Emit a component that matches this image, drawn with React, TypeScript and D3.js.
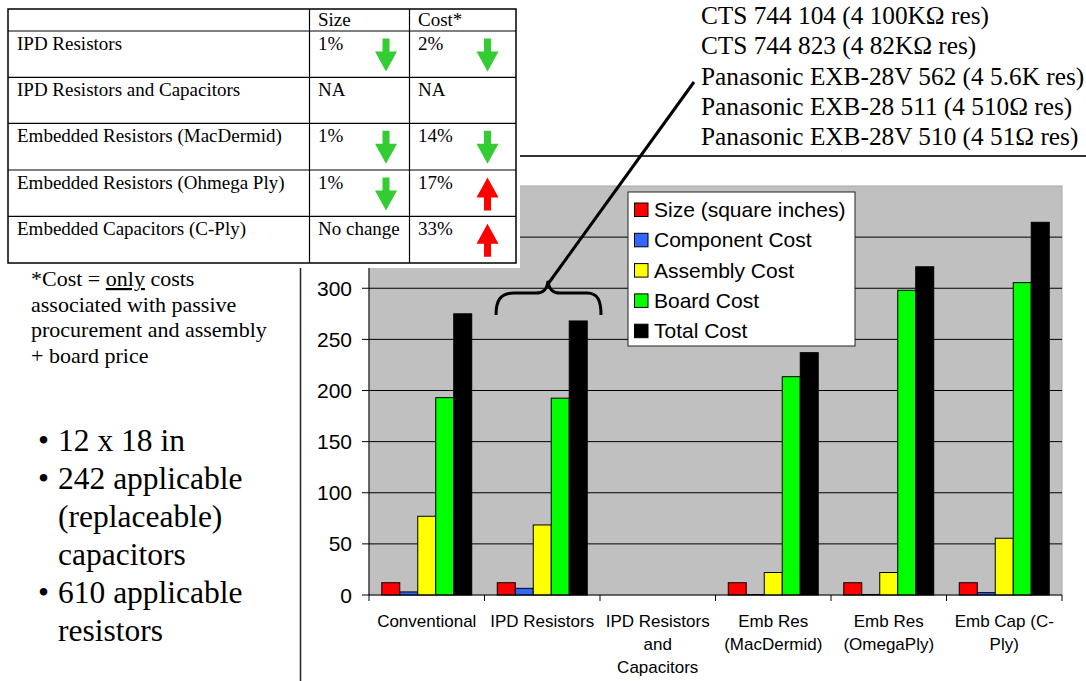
import React from "react";
import * as d3 from "d3";

// ---------- data ----------
const categories = [
  "Conventional",
  "IPD Resistors",
  "IPD Resistors and Capacitors",
  "Emb Res (MacDermid)",
  "Emb Res (OmegaPly)",
  "Emb Cap (C-Ply)",
];
const categoryLabelLines = [
  ["Conventional"],
  ["IPD Resistors"],
  ["IPD Resistors", "and", "Capacitors"],
  ["Emb Res", "(MacDermid)"],
  ["Emb Res", "(OmegaPly)"],
  ["Emb Cap (C-", "Ply)"],
];
const seriesNames = [
  "Size (square inches)",
  "Component Cost",
  "Assembly Cost",
  "Board Cost",
  "Total Cost",
];
const seriesColors = ["#FF0000", "#3366FF", "#FFFF00", "#00FF00", "#000000"];
const sizeValues = [12, 12, null, 12, 12, 12];
const componentValues = [3, 6.5, null, 0.5, 0.5, 2.3];
const assemblyValues = [77, 68.5, null, 22, 22, 55.5];
const boardValues = [193, 192.5, null, 213.5, 298, 305.5];
const totalValues = [275, 268, null, 237, 321, 364.5];
const yTicks = [0, 50, 100, 150, 200, 250, 300, 350, 400];
const yTickLabelsShown = [0, 50, 100, 150, 200, 250, 300];

const tableRows = [
  "IPD Resistors",
  "IPD Resistors and Capacitors",
  "Embedded Resistors (MacDermid)",
  "Embedded Resistors (Ohmega Ply)",
  "Embedded Capacitors (C-Ply)",
];
const sizeChange = ["1%", "NA", "1%", "1%", "No change"];
const costChange = ["2%", "NA", "14%", "17%", "33%"];
const sizeDir = ["down", null, "down", "down", null];
const costDir = ["down", null, "down", "up", "up"];

const partLines = [
  "CTS 744 104 (4 100KΩ res)",
  "CTS 744 823 (4 82KΩ res)",
  "Panasonic EXB-28V 562 (4 5.6K res)",
  "Panasonic EXB-28 511 (4 510Ω res)",
  "Panasonic EXB-28V 510 (4 51Ω res)",
];
const noteLines = ["associated with passive", "procurement and assembly", "+ board price"];
const bullets = [
  ["12 x 18 in"],
  ["242 applicable", "(replaceable)", "capacitors"],
  ["610 applicable", "resistors"],
];

const allSeries = [sizeValues, componentValues, assemblyValues, boardValues, totalValues];

const SANS = "'Liberation Sans', Arial, sans-serif";
const SERIF = "'Liberation Serif', 'Times New Roman', serif";

function Arrow({ cx, top, dir }: { cx: number; top: number; dir: string }) {
  const h = 33, hw = 11, sw = 3.5, headH = 20;
  let pts: number[][];
  if (dir === "down") {
    pts = [
      [cx - sw, top], [cx + sw, top], [cx + sw, top + h - headH], [cx + hw, top + h - headH],
      [cx, top + h], [cx - hw, top + h - headH], [cx - sw, top + h - headH],
    ];
  } else {
    pts = [
      [cx, top], [cx + hw, top + headH], [cx + sw, top + headH], [cx + sw, top + h],
      [cx - sw, top + h], [cx - sw, top + headH], [cx - hw, top + headH],
    ];
  }
  return (
    <polygon
      points={pts.map((p) => p.join(",")).join(" ")}
      fill={dir === "down" ? "#33CC33" : "#FF0000"}
    />
  );
}

export default function App() {
  const W = 1086, H = 681;
  const plot = { left: 369, right: 1062, top: 186, bottom: 595 };
  const y = d3.scaleLinear().domain([0, 400]).range([plot.bottom, plot.top]);
  const x0 = d3.scaleBand<string>().domain(categories).range([plot.left, plot.right]).padding(0);
  const x1 = d3
    .scaleBand<string>()
    .domain(seriesNames)
    .range([0, x0.bandwidth()])
    .paddingInner(0)
    .paddingOuter(0.71);

  // table geometry
  const tLeft = 8, tRight = 516, tTop = 9;
  const colX = [tLeft, 309.5, 409.5, tRight];
  const rowY = [tTop, 31, 77.3, 123.3, 170, 216.3, 263];

  return (
    <svg
      width={W}
      height={H}
      style={{ position: "absolute", left: 0, top: 0, background: "#fff" }}
    >
      {/* plot area */}
      <rect
        x={plot.left}
        y={plot.top}
        width={plot.right - plot.left}
        height={plot.bottom - plot.top}
        fill="#C0C0C0"
        stroke="#A8A8A8"
        strokeWidth={1}
      />
      {yTicks
        .filter((t) => t > 0 && t < 400)
        .map((t) => (
          <line key={"g" + t} x1={plot.left} x2={plot.right} y1={y(t)} y2={y(t)} stroke="#000" strokeWidth={1} />
        ))}
      {/* bars */}
      {categories.map((c, ci) =>
        seriesNames.map((s, si) => {
          const v = allSeries[si][ci];
          if (v === null || v === undefined) return null;
          const bx = (x0(c) as number) + (x1(s) as number);
          return (
            <rect
              key={c + s}
              x={bx}
              y={y(v)}
              width={x1.bandwidth()}
              height={y(0) - y(v)}
              fill={seriesColors[si]}
              stroke="#000"
              strokeWidth={1}
            />
          );
        })
      )}
      {/* axes */}
      <line x1={plot.left} x2={plot.left} y1={plot.top} y2={plot.bottom} stroke="#000" strokeWidth={1} />
      <line x1={plot.left} x2={plot.right} y1={plot.bottom} y2={plot.bottom} stroke="#000" strokeWidth={1} />
      {yTicks.map((t) => (
        <line key={"ytm" + t} x1={plot.left - 7} x2={plot.left} y1={y(t)} y2={y(t)} stroke="#000" />
      ))}
      {yTickLabelsShown.map((t) => (
        <text key={"yt" + t} x={352} y={y(t) + 7.5} textAnchor="end" fontFamily={SANS} fontSize={21} fill="#000">
          {t}
        </text>
      ))}
      {categories.map((c, ci) => (
        <line
          key={"xt" + ci}
          x1={x0(c) as number}
          x2={x0(c) as number}
          y1={plot.bottom}
          y2={plot.bottom + 6}
          stroke="#000"
        />
      ))}
      <line x1={plot.right} x2={plot.right} y1={plot.bottom} y2={plot.bottom + 6} stroke="#000" />
      {categories.map((c, ci) => (
        <text
          key={"xl" + ci}
          x={(x0(c) as number) + x0.bandwidth() / 2}
          y={627}
          textAnchor="middle"
          fontFamily={SANS}
          fontSize={17}
          fill="#000"
        >
          {categoryLabelLines[ci].map((l, li) => (
            <tspan key={li} x={(x0(c) as number) + x0.bandwidth() / 2} y={627 + li * 23}>
              {l}
            </tspan>
          ))}
        </text>
      ))}
      {/* legend */}
      <rect x={628} y={192} width={227} height={154} fill="#fff" stroke="#222" strokeWidth={1} />
      {seriesNames.map((s, i) => (
        <g key={"lg" + i}>
          <rect x={634.5} y={203 + i * 30.3} width={13.5} height={13.5} fill={seriesColors[i]} stroke="#000" />
          <text x={654} y={217 + i * 30.3} fontFamily={SANS} fontSize={21} fill="#000">
            {s}
          </text>
        </g>
      ))}

      {/* table */}
      <rect x={0} y={0} width={520} height={268} fill="#fff" />
      <rect x={tLeft} y={tTop} width={tRight - tLeft} height={rowY[6] - tTop} fill="none" stroke="#000" strokeWidth={1.5} />
      {colX.slice(1, 3).map((cx, i) => (
        <line key={"cv" + i} x1={cx} x2={cx} y1={tTop} y2={rowY[6]} stroke="#000" strokeWidth={1.2} />
      ))}
      {rowY.slice(1, 6).map((ry, i) => (
        <line key={"rh" + i} x1={tLeft} x2={tRight} y1={ry} y2={ry} stroke="#000" strokeWidth={1.2} />
      ))}
      <text x={318} y={26} fontFamily={SERIF} fontSize={19} fill="#000">Size</text>
      <text x={418} y={26} fontFamily={SERIF} fontSize={19} fill="#000">Cost*</text>
      {tableRows.map((r, i) => (
        <g key={"tr" + i}>
          <text x={17} y={rowY[i + 1] + 18.5} fontFamily={SERIF} fontSize={19} fill="#000">{r}</text>
          <text x={318} y={rowY[i + 1] + 18.5} fontFamily={SERIF} fontSize={19} fill="#000">{sizeChange[i]}</text>
          <text x={418} y={rowY[i + 1] + 18.5} fontFamily={SERIF} fontSize={19} fill="#000">{costChange[i]}</text>
          {sizeDir[i] && <Arrow cx={386} top={rowY[i + 1] + 7.5} dir={sizeDir[i] as string} />}
          {costDir[i] && <Arrow cx={487.5} top={rowY[i + 1] + 7.5} dir={costDir[i] as string} />}
        </g>
      ))}

      {/* note */}
      <text x={31} y={286} fontFamily={SERIF} fontSize={22} fill="#000">
        *Cost = <tspan textDecoration="underline">only</tspan> costs
      </text>
      {noteLines.map((l, i) => (
        <text key={"nl" + i} x={31} y={311.5 + i * 25.5} fontFamily={SERIF} fontSize={22} fill="#000">
          {l}
        </text>
      ))}
      {/* bullets */}
      {(() => {
        let line = 0;
        const out: any[] = [];
        bullets.forEach((b, bi) => {
          b.forEach((l, li) => {
            const yy = 450.5 + line * 38;
            if (li === 0)
              out.push(
                <text key={"b" + bi} x={38} y={yy} fontFamily={SERIF} fontSize={31.5} fill="#000">•</text>
              );
            out.push(
              <text key={"bl" + bi + "_" + li} x={58} y={yy} fontFamily={SERIF} fontSize={31.5} fill="#000">
                {l}
              </text>
            );
            line++;
          });
        });
        return out;
      })()}
      <line x1={300.5} x2={300.5} y1={268} y2={681} stroke="#222" strokeWidth={1.5} />

      {/* part list */}
      {partLines.map((l, i) => (
        <text key={"pl" + i} x={701} y={24 + i * 30.3} fontFamily={SERIF} fontSize={25.3} fill="#000">
          {l}
        </text>
      ))}
      <line x1={520} x2={1086} y1={156} y2={156} stroke="#333" strokeWidth={2} />
      {/* brace and pointer */}
      <path
        d="M496,315 C496,301 500,293 514,293 L536,293 C543,293 547,290 548,281 C549,290 553,293 560,293 L587,293 C598,293 601,301 601,315"
        fill="none"
        stroke="#000"
        strokeWidth={3}
      />
      <line x1={548} y1={284} x2={694} y2={82} stroke="#000" strokeWidth={3} />
    </svg>
  );
}
